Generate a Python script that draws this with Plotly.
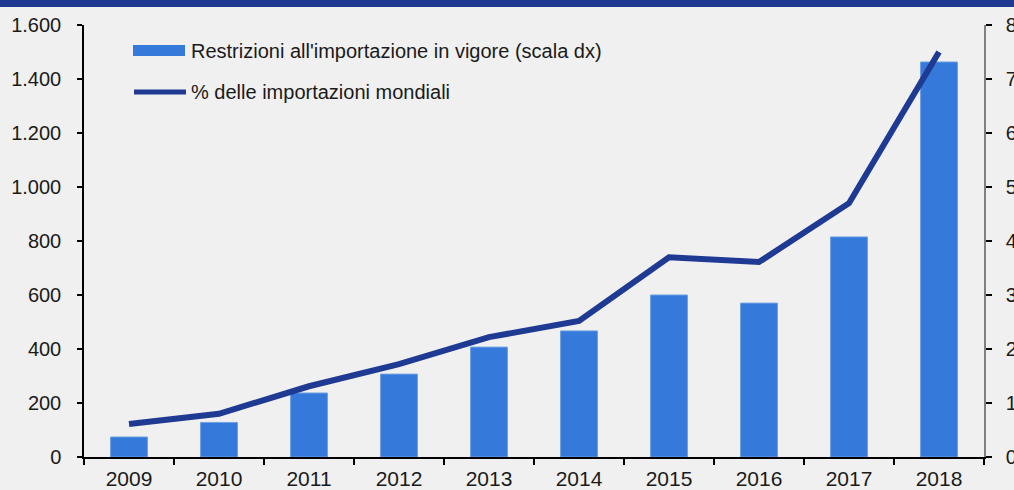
import plotly.graph_objects as go

# Data
years = ["2009", "2010", "2011", "2012", "2013", "2014", "2015", "2016", "2017", "2018"]
restrictions = [74, 128, 237, 307, 407, 467, 600, 570, 815, 1463]
pct_world_imports = [0.61, 0.8, 1.31, 1.72, 2.22, 2.52, 3.7, 3.61, 4.7, 7.5]

BAR_COLOR = "#3579db"
LINE_COLOR = "#1f3a93"
BG = "#f0f0f0"
FONT = "Liberation Sans"

fig = go.Figure()

fig.add_trace(go.Bar(
    x=years, y=restrictions,
    name="Restrizioni all'importazione in vigore (scala dx)",
    marker=dict(color=BAR_COLOR, line=dict(color="#6f9fe3", width=1)),
    width=0.41,
    yaxis="y",
))

fig.add_trace(go.Scatter(
    x=years, y=pct_world_imports,
    name="% delle importazioni mondiali",
    mode="lines",
    line=dict(color=LINE_COLOR, width=6),
    yaxis="y2",
))

fig.update_layout(
    width=1014, height=490,
    margin=dict(l=84, r=30, t=25, b=33, autoexpand=False),
    paper_bgcolor=BG, plot_bgcolor=BG,
    showlegend=False,
    separators=",.",
    font=dict(family=FONT, size=20, color="#1a1a1a"),
    xaxis=dict(
        type="category",
        showgrid=False, zeroline=False,
        showline=True, linecolor="black", linewidth=1.5,
        ticks="outside", tickson="boundaries", ticklen=6, tickwidth=1.5, tickcolor="black",
        tickfont=dict(size=21), ticklabelstandoff=2,
    ),
    yaxis=dict(
        range=[0, 1600], dtick=200, separatethousands=True,
        showgrid=False, zeroline=False,
        showline=True, linecolor="black", linewidth=1.5,
        ticks="outside", ticklen=5, tickwidth=1.5, tickcolor="black",
        tickfont=dict(size=20), ticklabelstandoff=12,
    ),
    yaxis2=dict(
        range=[0, 8], dtick=1, overlaying="y", side="right",
        showgrid=False, zeroline=False,
        showline=True, linecolor="#808080", linewidth=1.5,
        ticks="outside", ticklen=6, tickwidth=1.5, tickcolor="black",
        tickfont=dict(size=20), ticklabelstandoff=10,
    ),
)

# Dark band across the top of the page
fig.add_shape(type="rect", xref="paper", yref="paper",
              x0=-0.2, x1=1.2, y0=1 + 18 / 432, y1=1 + 26 / 432,
              fillcolor=LINE_COLOR, line_width=0, layer="above")

# Hand-drawn legend (Excel style)
def px(xpix):
    return (xpix - 84) / 900.0

def py(ypix):
    return (457 - ypix) / 432.0

fig.add_shape(type="rect", xref="paper", yref="paper",
              x0=px(133), x1=px(185), y0=py(56), y1=py(45),
              fillcolor=BAR_COLOR, line_width=0)
fig.add_shape(type="line", xref="paper", yref="paper",
              x0=px(134), x1=px(186), y0=py(92), y1=py(92),
              line=dict(color=LINE_COLOR, width=5))
fig.add_annotation(xref="paper", yref="paper", x=px(189), y=py(51),
                   text="Restrizioni all'importazione in vigore (scala dx)",
                   showarrow=False, xanchor="left", yanchor="middle",
                   font=dict(size=20))
fig.add_annotation(xref="paper", yref="paper", x=px(189), y=py(92),
                   text="% delle importazioni mondiali",
                   showarrow=False, xanchor="left", yanchor="middle",
                   font=dict(size=20))

fig.write_html("out.html", config={"displayModeBar": False},
               post_script="document.body.style.margin='0px';")
